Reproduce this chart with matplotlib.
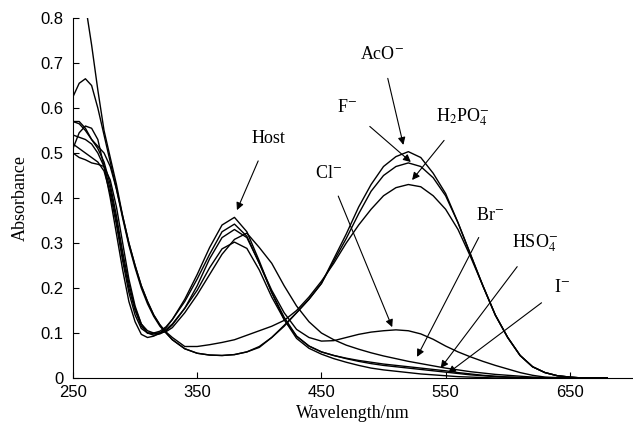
import matplotlib
matplotlib.use("Agg")
import matplotlib.pyplot as plt
import numpy as np

plt.rcParams['mathtext.fontset'] = 'stix'

wl = [250, 255, 260, 265, 270, 275, 280, 285, 290, 295, 300, 305, 310, 315,
      320, 325, 330, 340, 350, 360, 370, 380, 390, 400, 410, 420, 430, 440,
      450, 460, 470, 480, 490, 500, 510, 520, 530, 540, 550, 560, 570, 580,
      590, 600, 610, 620, 630, 640, 650, 660, 670, 680]

host = [0.51, 0.545, 0.56, 0.555, 0.53, 0.47, 0.40, 0.32, 0.24, 0.17, 0.125, 0.097,
        0.09, 0.093, 0.10, 0.112, 0.13, 0.175, 0.23, 0.29, 0.34, 0.357, 0.325, 0.26,
        0.19, 0.13, 0.088, 0.066, 0.053, 0.043, 0.035, 0.028, 0.022, 0.018, 0.015,
        0.012, 0.009, 0.007, 0.005, 0.003, 0.002, 0.001, 0, 0, 0, 0, 0, 0, 0, 0, 0, 0]

iodide = [0.52, 0.51, 0.50, 0.49, 0.48, 0.46, 0.41, 0.34, 0.26, 0.19, 0.14, 0.11,
          0.10, 0.10, 0.104, 0.114, 0.13, 0.17, 0.22, 0.275, 0.325, 0.342, 0.315, 0.255,
          0.19, 0.135, 0.093, 0.071, 0.058, 0.05, 0.043, 0.037, 0.032, 0.028, 0.025,
          0.022, 0.019, 0.016, 0.013, 0.01, 0.007, 0.005, 0.003, 0.002, 0.001, 0,
          0, 0, 0, 0, 0, 0]

hso4 = [0.54, 0.535, 0.53, 0.52, 0.50, 0.47, 0.42, 0.35, 0.27, 0.20, 0.15, 0.115,
        0.10, 0.098, 0.10, 0.108, 0.12, 0.155, 0.195, 0.245, 0.287, 0.302, 0.288, 0.24,
        0.18, 0.13, 0.093, 0.071, 0.058, 0.05, 0.044, 0.039, 0.035, 0.031, 0.028,
        0.025, 0.022, 0.019, 0.016, 0.012, 0.009, 0.006, 0.004, 0.002, 0.001, 0,
        0, 0, 0, 0, 0, 0]

bromide = [0.57, 0.57, 0.555, 0.53, 0.51, 0.48, 0.43, 0.36, 0.28, 0.21, 0.155, 0.12,
           0.105, 0.10, 0.10, 0.103, 0.112, 0.145, 0.185, 0.23, 0.275, 0.308, 0.322, 0.29,
           0.255, 0.205, 0.16, 0.125, 0.10, 0.085, 0.073, 0.064, 0.056, 0.049, 0.043,
           0.037, 0.032, 0.027, 0.022, 0.018, 0.014, 0.011, 0.008, 0.006, 0.004, 0.002,
           0.001, 0, 0, 0, 0, 0]

chloride = [0.50, 0.49, 0.485, 0.478, 0.475, 0.47, 0.44, 0.38, 0.30, 0.22, 0.16, 0.12,
            0.10, 0.095, 0.098, 0.105, 0.118, 0.155, 0.205, 0.265, 0.312, 0.33, 0.312, 0.255,
            0.195, 0.145, 0.108, 0.09, 0.082, 0.083, 0.09, 0.097, 0.102, 0.105, 0.107,
            0.105, 0.098, 0.086, 0.071, 0.058, 0.047, 0.037, 0.028, 0.02, 0.012, 0.006,
            0.002, 0.001, 0, 0, 0, 0]

acetate = [0.97, 0.90, 0.83, 0.74, 0.64, 0.55, 0.49, 0.43, 0.36, 0.30, 0.25, 0.205,
           0.17, 0.14, 0.118, 0.10, 0.085, 0.065, 0.055, 0.051, 0.05, 0.052, 0.058, 0.07,
           0.09, 0.115, 0.145, 0.175, 0.21, 0.265, 0.32, 0.38, 0.43, 0.47, 0.492,
           0.503, 0.49, 0.455, 0.41, 0.345, 0.275, 0.205, 0.14, 0.09, 0.05, 0.025,
           0.012, 0.005, 0.002, 0, 0, 0]

fluoride = [0.625, 0.655, 0.665, 0.65, 0.60, 0.54, 0.48, 0.42, 0.355, 0.295, 0.245, 0.20,
            0.165, 0.137, 0.115, 0.10, 0.085, 0.065, 0.055, 0.051, 0.05, 0.052, 0.058, 0.068,
            0.09, 0.117, 0.145, 0.175, 0.21, 0.26, 0.31, 0.365, 0.415, 0.45, 0.47,
            0.478, 0.47, 0.445, 0.405, 0.345, 0.275, 0.205, 0.14, 0.09, 0.05, 0.025,
            0.012, 0.005, 0.002, 0, 0, 0]

h2po4 = [0.57, 0.565, 0.55, 0.53, 0.515, 0.50, 0.47, 0.42, 0.36, 0.30, 0.25, 0.205,
         0.17, 0.14, 0.118, 0.102, 0.09, 0.07, 0.07, 0.074, 0.079, 0.085, 0.095, 0.105,
         0.115, 0.128, 0.15, 0.18, 0.215, 0.255, 0.30, 0.34, 0.375, 0.405, 0.423,
         0.43, 0.425, 0.405, 0.375, 0.33, 0.27, 0.205, 0.14, 0.09, 0.05, 0.025,
         0.012, 0.005, 0.002, 0, 0, 0]

spectra = [host, iodide, hso4, bromide, chloride, acetate, fluoride, h2po4]

# label, text position, arrow tip
labels = ['Host', r'AcO$^{-}$', r'F$^{-}$', r'H$_2$PO$_4^{-}$',
          r'Cl$^{-}$', r'Br$^{-}$', r'HSO$_4^{-}$', r'I$^{-}$']
text_xy = [(407, 0.533), (499, 0.718), (471, 0.602), (564, 0.58),
           (456, 0.455), (586, 0.362), (622, 0.30), (644, 0.202)]
tip_xy = [(382, 0.373), (516, 0.518), (522, 0.48), (523, 0.44),
          (507, 0.113), (527, 0.047), (546, 0.022), (552, 0.011)]

fig = plt.figure(figsize=(6.33, 4.25), dpi=100)
ax = fig.add_axes([0.1153, 0.1106, 0.883, 0.847])

for s in spectra:
    ax.plot(wl, s, color='black', lw=1.0)

for lab, txt, tip in zip(labels, text_xy, tip_xy):
    ax.annotate(lab, xy=tip, xytext=txt, family='Liberation Serif', size=13,
                ha='center', va='center',
                arrowprops=dict(arrowstyle='-|>', color='black', lw=0.8,
                                mutation_scale=11, shrinkA=9, shrinkB=0))

ax.set_xlim(250, 700)
ax.set_ylim(0, 0.8)
ax.set_xticks([250, 350, 450, 550, 650])
ax.set_yticks(np.arange(0, 0.81, 0.1))
ax.set_yticklabels(['0', '0.1', '0.2', '0.3', '0.4', '0.5', '0.6', '0.7', '0.8'])
ax.tick_params(direction='in', length=4, width=0.8, labelsize=12)
ax.tick_params(axis='y', pad=7)
ax.tick_params(axis='x', pad=5)
for t in ax.get_xticklabels() + ax.get_yticklabels():
    t.set_fontfamily('Liberation Sans')
ax.spines['top'].set_visible(False)
ax.spines['right'].set_visible(False)
ax.set_xlabel('Wavelength/nm', family='Liberation Serif', size=13, labelpad=4)
ax.set_ylabel('Absorbance', family='Liberation Serif', size=13, labelpad=8)

fig.savefig('out.png', dpi=100)
